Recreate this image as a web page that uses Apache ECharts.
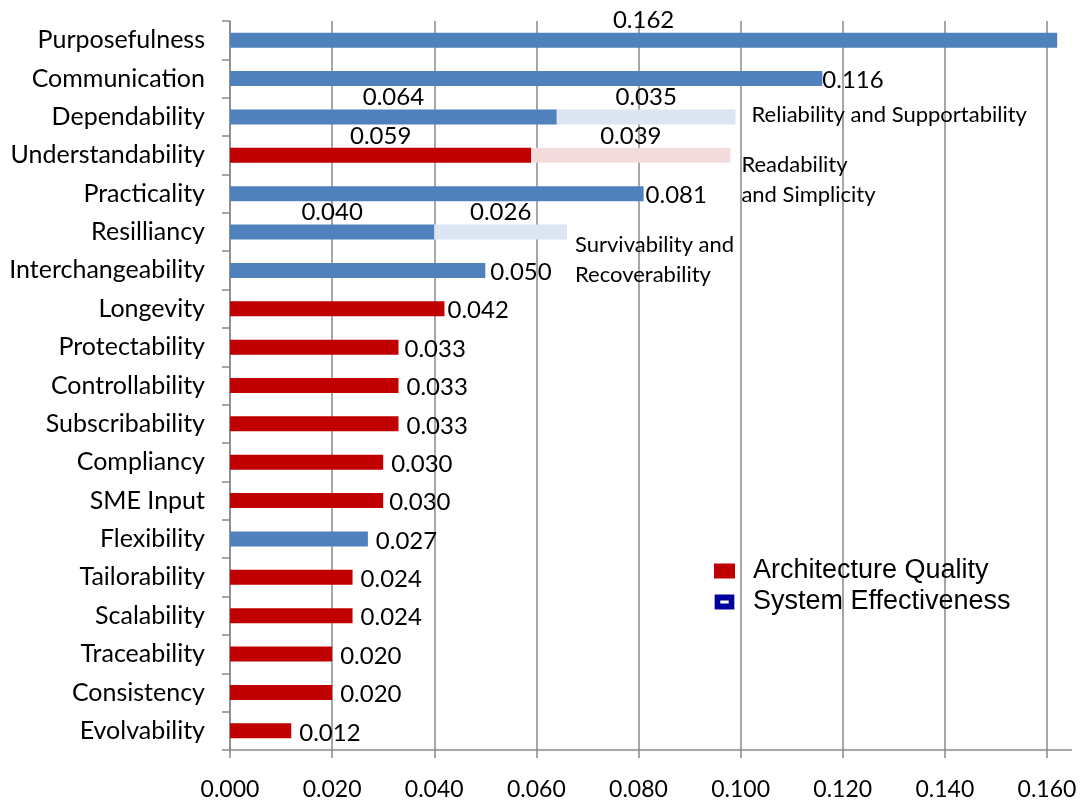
<!DOCTYPE html>
<html>
<head>
<meta charset="utf-8">
<script src="https://cdn.jsdelivr.net/npm/echarts@6/dist/echarts.min.js"></script>
<style>
html,body{margin:0;padding:0;background:#fff;}
#chart{width:1081px;height:806px;}
</style>
</head>
<body>
<div id="chart"></div>
<script>
// ---- data ----
const categories = ['Purposefulness','Communication','Dependability','Understandability','Practicality','Resilliancy','Interchangeability','Longevity','Protectability','Controllability','Subscribability','Compliancy','SME Input','Flexibility','Tailorability','Scalability','Traceability','Consistency','Evolvability'];
const values = [0.162,0.116,0.064,0.059,0.081,0.040,0.050,0.042,0.033,0.033,0.033,0.030,0.030,0.027,0.024,0.024,0.020,0.020,0.012];
const groups = ['SE','SE','SE','AQ','SE','SE','SE','AQ','AQ','AQ','AQ','AQ','AQ','SE','AQ','AQ','AQ','AQ','AQ'];
const extValues = ['-','-',0.035,0.039,'-',0.026,'-','-','-','-','-','-','-','-','-','-','-','-','-'];
const extNotes = [
  {cat:'Dependability', lines:['Reliability and Supportability']},
  {cat:'Understandability', lines:['Readability','and Simplicity']},
  {cat:'Resilliancy', lines:['Survivability and','Recoverability']}
];
const xTicks = {min:0, max:0.16, interval:0.02};
const seriesNames = {AQ:'Architecture Quality', SE:'System Effectiveness'};

// ---- styles ----
const FONT = 'Lato';
const colors = {SE:'#4F81BD', AQ:'#C00000'};
const extColors = {SE:'#DCE6F2', AQ:'#F2DCDB'};
const gridColor = '#8a8a8a';
const labelGapDefault = 8;
const labelGap = {'Communication':0, 'Practicality':2, 'Longevity':3, 'Interchangeability':5, 'Protectability':6, 'SME Input':6};

function mainData(g){
  return values.map((v,i)=>{
    if (groups[i] !== g) return '-';
    const top = extValues[i] !== '-' || v > xTicks.max;
    const gap = labelGap[categories[i]] !== undefined ? labelGap[categories[i]] : labelGapDefault;
    return {value:v, label: top ? {position:'top', distance:1} : {position:'right', distance:gap, offset:[0,2]}};
  });
}
const extData = extValues.map((v,i)=> v === '-' ? '-' : {value:v, itemStyle:{color:extColors[groups[i]]}});

const labelBase = {show:true, color:'#000', fontFamily:FONT, fontSize:24, lineHeight:22, formatter:p=>Number(p.value).toFixed(3)};

const chart = echarts.init(document.getElementById('chart'));
const option = {
  animation:false,
  backgroundColor:'#fff',
  grid:{left:230, right:34, top:21, bottom:56, containLabel:false},
  xAxis:{type:'value', min:xTicks.min, max:xTicks.max, interval:xTicks.interval,
    axisLine:{show:true, lineStyle:{color:gridColor, width:1.5}},
    axisTick:{show:true, length:8, lineStyle:{color:gridColor, width:1.5}},
    splitLine:{show:true, lineStyle:{color:gridColor, width:1.5}},
    axisLabel:{color:'#000', fontFamily:FONT, fontSize:23, margin:28, formatter:v=>v.toFixed(3)}
  },
  yAxis:{type:'category', inverse:true, data:categories,
    axisLine:{show:true, lineStyle:{color:gridColor, width:1.5}},
    axisTick:{show:true, length:8, lineStyle:{color:gridColor, width:1.5}},
    axisLabel:{color:'#000', fontFamily:FONT, fontSize:25, margin:25}
  },
  legend:{
    orient:'vertical', left:709, top:551, itemWidth:21, itemHeight:15, itemGap:1,
    textStyle:{fontFamily:'Liberation Sans', fontSize:27, color:'#000', lineHeight:30, padding:[0,0,0,13]},
    data:[
      {name:seriesNames.AQ, icon:'rect', itemStyle:{color:'#C00000'}},
      {name:seriesNames.SE, icon:'path://M0,0H21V16H0Z M6,6.5V9.5H15V6.5Z', itemStyle:{color:'#00009A'}}
    ]
  },
  series:[
    {name:seriesNames.SE, type:'bar', stack:'t', barWidth:15, clip:false, data:mainData('SE'),
      itemStyle:{color:colors.SE}, label:labelBase},
    {name:seriesNames.AQ, type:'bar', stack:'t', barWidth:15, clip:false, data:mainData('AQ'),
      itemStyle:{color:colors.AQ}, label:labelBase},
    {name:'ext', type:'bar', stack:'t', barWidth:15, clip:false, data:extData,
      label:Object.assign({}, labelBase, {position:'top', distance:1})}
  ]
};
chart.setOption(option);

// annotations and axis-line extension (decoration)
const gfx = [];
const y0 = chart.convertToPixel({yAxisIndex:0}, categories[categories.length-1]) + 19.2;
const xEnd = chart.convertToPixel({xAxisIndex:0}, xTicks.max);
gfx.push({type:'line', shape:{x1:xEnd, y1:y0, x2:xEnd+25, y2:y0}, style:{stroke:gridColor, lineWidth:1.5}});
const notePos = {
  'Dependability':{dx:16, dy:-17},
  'Understandability':{dx:11, dy:-5},
  'Resilliancy':{dx:8, dy:-2}
};
extNotes.forEach(n=>{
  const i = categories.indexOf(n.cat);
  const tot = values[i] + extValues[i];
  const px = chart.convertToPixel({xAxisIndex:0}, tot);
  const py = chart.convertToPixel({yAxisIndex:0}, n.cat);
  const p = notePos[n.cat];
  gfx.push({type:'text', x:px+p.dx, y:py+p.dy, style:{text:n.lines.join('\n'), fill:'#000', font:'22px Lato', lineHeight:30, verticalAlign:'top'}});
});
chart.setOption({graphic:gfx});
</script>
</body>
</html>
